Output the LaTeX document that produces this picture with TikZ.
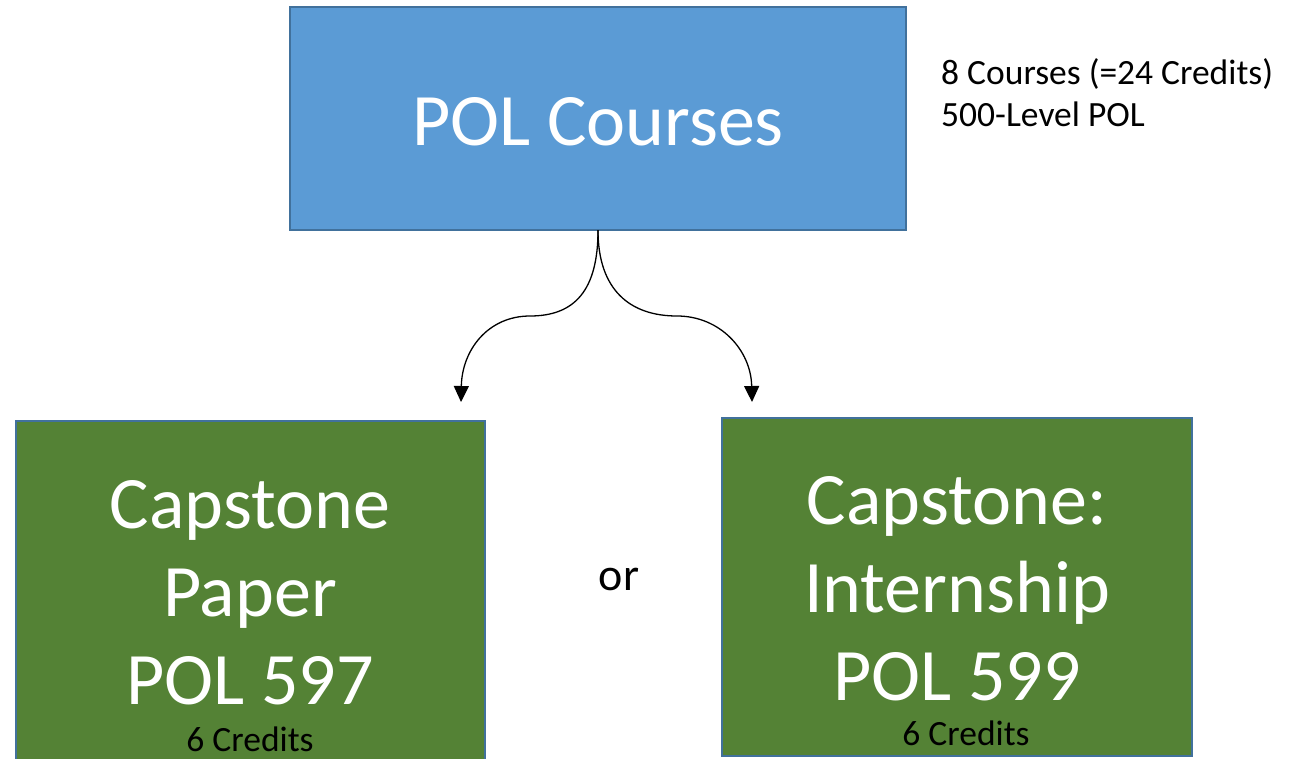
\documentclass[tikz,border=0pt]{standalone}
\usepackage{fontspec}
\setmainfont{Carlito}
\usetikzlibrary{arrows.meta}
\definecolor{topblue}{HTML}{5B9BD5}
\definecolor{edgeblue}{HTML}{41719C}
\definecolor{boxgreen}{HTML}{548235}
\tikzset{
  boxstyle/.style={draw=edgeblue, line width=2pt, inner sep=0pt, outer sep=0pt},
  bigtext/.style={text=white, font=\fontsize{74}{88}\selectfont, anchor=base, inner sep=0pt},
  smalltext/.style={text=black, font=\fontsize{35.5}{42}\selectfont, inner sep=0pt},
  curvearrow/.style={line width=1.3pt, -{Triangle[width=15pt,length=16pt]}},
}
\begin{document}
\begin{tikzpicture}[x=1pt,y=-1pt]
\useasboundingbox (0,0) rectangle (1292,758);
\fill[white] (0,0) rectangle (1292,758);
% boxes
\path[boxstyle, fill=topblue] (290,7) rectangle (906,230);
\node[minimum width=616pt, minimum height=223pt, inner sep=0pt] (top) at (598,118.5) {};
\path[boxstyle, fill=boxgreen] (16,421) rectangle (485,775);
\node[minimum width=469pt, minimum height=337pt, inner sep=0pt] (left) at (250.5,589.5) {};
\path[boxstyle, fill=boxgreen] (722,418) rectangle (1192,756);
\node[minimum width=470pt, minimum height=338pt, inner sep=0pt] (right) at (957,587) {};
% texts
\node[bigtext] (toptext) at (598,145) {POL Courses};
\node[smalltext, anchor=base west, align=left] (note1) at (941,84) {8 Courses (=24 Credits)};
\node[smalltext, anchor=base west, align=left] (note2) at (941,126) {500-Level POL};
\node[bigtext] (l1) at (250,528) {Capstone};
\node[bigtext] (l2) at (250,616) {Paper};
\node[bigtext] (l3) at (250,704) {POL 597};
\node[smalltext, anchor=base] (lc) at (250,751) {6 Credits};
\node[bigtext] (r1) at (957,524) {Capstone:};
\node[bigtext] (r2) at (957,612) {Internship};
\node[bigtext] (r3) at (957,700) {POL 599};
\node[smalltext, anchor=base] (rc) at (966,745) {6 Credits};
\node[text=black, font=\fontsize{46}{55}\selectfont, anchor=base, inner sep=0pt] (or) at (619,590) {or};
% connectors
\coordinate (lmid) at (530,316);
\coordinate (rmid) at (677,316);
\coordinate (ltip) at (461,402);
\coordinate (rtip) at (752,402);
\draw[curvearrow] (top.south) .. controls (598,290) and (575,316) .. (lmid) .. controls (488,316) and (462,350) .. (ltip);
\draw[curvearrow] (top.south) .. controls (598,290) and (630,316) .. (rmid) .. controls (720,316) and (751,350) .. (rtip);
\end{tikzpicture}
\end{document}
